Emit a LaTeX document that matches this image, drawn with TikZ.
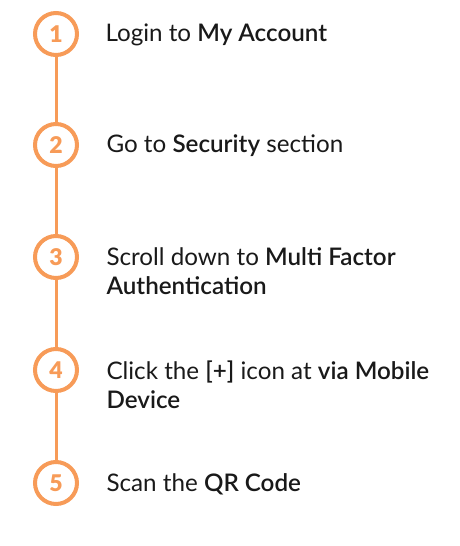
\documentclass[tikz,border=0pt]{standalone}
\usepackage{fontspec}
\setmainfont{Lato}[BoldFont={Lato Semibold}]
\newfontfamily\numfont{Lato Black}
\definecolor{stepor}{RGB}{247,155,88}
\definecolor{txt}{RGB}{25,25,25}
\begin{document}
\begin{tikzpicture}[x=1pt,y=-1pt,
  stepcirc/.style={circle,draw=stepor,line width=4pt,minimum size=42pt,inner sep=0pt,
    text=stepor,font=\numfont\fontsize{23}{23}\selectfont},
  steptext/.style={anchor=west,align=left,text=txt,font=\fontsize{24.2}{29}\selectfont},
  link/.style={draw=stepor,line width=3pt}]
\useasboundingbox (0,0) rectangle (460,546);
\node[stepcirc] (c1) at (56,34) {1};
\node[stepcirc] (c2) at (56,145) {2};
\node[stepcirc] (c3) at (56,257) {3};
\node[stepcirc] (c4) at (56,370) {4};
\node[stepcirc] (c5) at (56,483) {5};
\draw[link] (c1) -- (c2);
\draw[link] (c2) -- (c3);
\draw[link] (c3) -- (c4);
\draw[link] (c4) -- (c5);
\node[steptext] (t1) at (102,35) {Login to \textbf{My Account}};
\node[steptext] (t2) at (103,146) {Go to \textbf{Security} section};
\node[steptext] (t3) at (103,271) {Scroll down to \textbf{Multi Factor}\\\textbf{Authentication}};
\node[steptext] (t4) at (103,385) {Click the \textbf{[+]} icon at \textbf{via Mobile}\\\textbf{Device}};
\node[steptext] (t5) at (103,484) {Scan the \textbf{QR Code}};
\end{tikzpicture}
\end{document}
